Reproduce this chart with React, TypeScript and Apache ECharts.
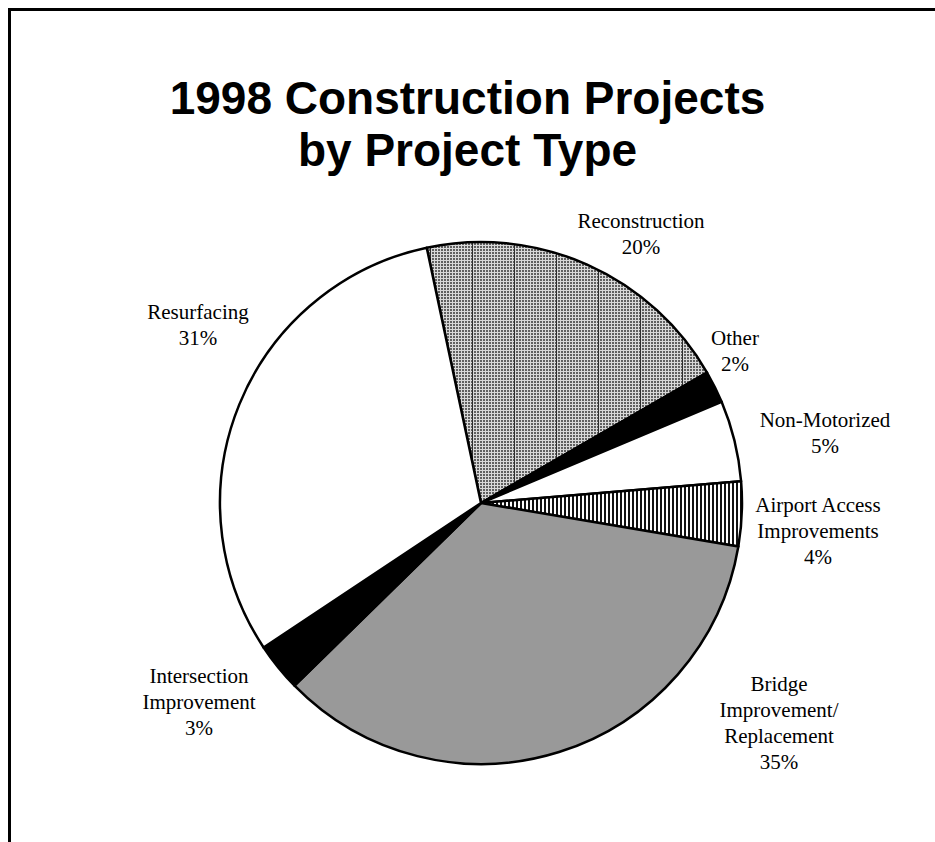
import React, { useEffect, useRef } from "react";
import * as echarts from "echarts";

const titleLines = ["1998 Construction Projects", "by Project Type"];
const categories = [
  "Reconstruction",
  "Other",
  "Non-Motorized",
  "Airport Access\nImprovements",
  "Bridge\nImprovement/\nReplacement",
  "Intersection\nImprovement",
  "Resurfacing",
];
const values = [20, 2, 5, 4, 35, 3, 31];

const svgUrl = (s: string) => "data:image/svg+xml;charset=utf-8," + encodeURIComponent(s);

const reconTile = svgUrl(
  '<svg xmlns="http://www.w3.org/2000/svg" width="42" height="3" shape-rendering="crispEdges">' +
    '<rect width="42" height="3" fill="#606060"/>' +
    '<rect x="0" y="2" width="42" height="1" fill="#d8d8d8"/>' +
    Array.from({ length: 14 }, (_, i) => `<rect x="${i * 3 + 2}" y="0" width="1" height="3" fill="#d8d8d8"/>`).join("") +
    '<rect x="10" y="0" width="1" height="3" fill="#2e2e2e"/>' +
    "</svg>"
);
const airportTile = svgUrl(
  '<svg xmlns="http://www.w3.org/2000/svg" width="4" height="4" shape-rendering="crispEdges">' +
    '<rect width="4" height="4" fill="#ffffff"/>' +
    '<rect x="0" y="0" width="2" height="4" fill="#111111"/>' +
    "</svg>"
);

const fills: any[] = [
  { image: reconTile, repeat: "repeat", imageWidth: 42, imageHeight: 3 },
  "#000000",
  "#ffffff",
  { image: airportTile, repeat: "repeat", imageWidth: 4, imageHeight: 4 },
  "#999999",
  "#000000",
  "#ffffff",
];

const labelPos: [number, number][] = [
  [641, 234],
  [735, 351],
  [825, 433],
  [818, 531],
  [779, 723],
  [199, 702],
  [198, 325],
];

export default function App() {
  const ref = useRef<HTMLDivElement>(null);
  useEffect(() => {
    if (!ref.current) return;
    const chart = echarts.init(ref.current, null, { renderer: "svg" });
    chart.setOption({
      animation: false,
      backgroundColor: "#ffffff",
      title: {
        text: titleLines.join("\n"),
        left: "center",
        top: 67,
        textStyle: {
          fontFamily: "Liberation Sans",
          fontWeight: "bold",
          fontSize: 46,
          lineHeight: 52,
          color: "#000",
        },
      },
      graphic: [
        { type: "line", shape: { x1: 9.5, y1: 8, x2: 9.5, y2: 842 }, style: { stroke: "#000", lineWidth: 3 } },
        { type: "line", shape: { x1: 8, y1: 9.5, x2: 935, y2: 9.5 }, style: { stroke: "#000", lineWidth: 3 } },
      ],
      series: [
        {
          type: "pie",
          center: [481, 503],
          radius: 261,
          startAngle: 102,
          clockwise: true,
          avoidLabelOverlap: false,
          emphasis: { disabled: true },
          data: categories.map((name, i) => ({
            name,
            value: values[i],
            itemStyle: { color: fills[i] },
          })),
          itemStyle: { borderColor: "#000", borderWidth: 2.5, borderJoin: "round" },
          label: {
            show: true,
            position: "outside",
            formatter: "{b}\n{c}%",
            fontFamily: "Liberation Serif",
            fontSize: 21,
            lineHeight: 26,
            color: "#000",
            align: "center",
          },
          labelLine: { show: false },
          labelLayout: (p: any) => ({
            x: labelPos[p.dataIndex][0],
            y: labelPos[p.dataIndex][1],
            align: "center",
            verticalAlign: "middle",
          }),
        },
      ],
    });
    return () => chart.dispose();
  }, []);
  return (
    <div
      ref={ref}
      style={{ position: "fixed", left: 0, top: 0, width: 935, height: 842 }}
    />
  );
}
